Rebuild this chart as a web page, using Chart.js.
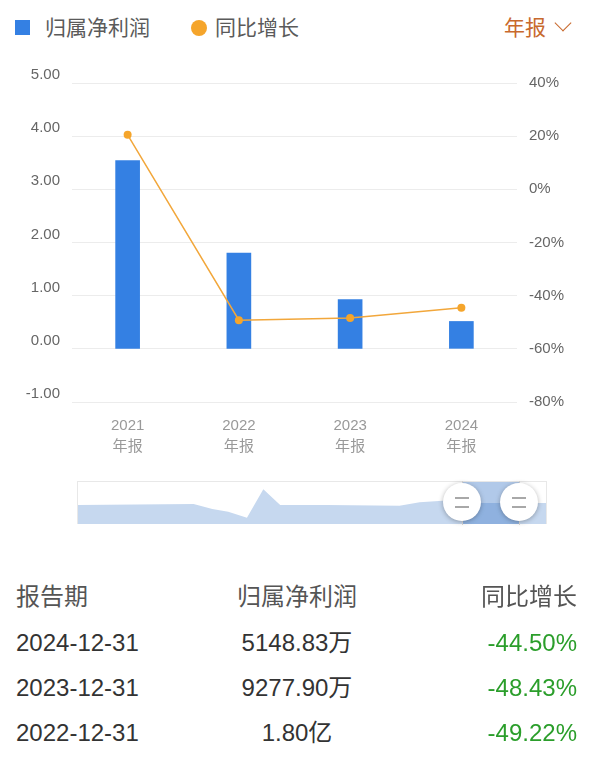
<!DOCTYPE html>
<html>
<head>
<meta charset="utf-8">
<script src="https://cdn.jsdelivr.net/npm/chart.js@4"></script>
<style>
  body { margin: 0; background: #fff; font-family: 'Liberation Sans', 'Noto Sans CJK SC', sans-serif; }
  #page { position: relative; width: 600px; height: 761px; overflow: hidden; }
  .abs { position: absolute; }
  .legend-text { font-size: 21px; color: #5a5a5a; line-height: 28px; top: 14px; }
  #period { left: 504px; top: 14px; font-size: 21px; line-height: 28px; color: #c8692d; }
  #chevron { left: 557px; top: 17px; width: 11px; height: 11px; border-right: 1.6px solid #c8692d; border-bottom: 1.6px solid #c8692d; transform: rotate(45deg); }
  #slider { left: 77px; top: 481px; width: 470px; height: 43px; border: 1px solid #e8e8e8; box-sizing: border-box; }
  #band { left: 463px; top: 482px; width: 56px; height: 42px; background: rgba(60, 120, 200, 0.4); }
  .handle { width: 38px; height: 38px; border-radius: 50%; background: #fff; box-shadow: 0 1px 5px rgba(0,0,0,0.3); top: 483px; }
  .handle .bar { position: absolute; left: 12px; width: 14px; height: 2px; background: #a8a8a8; }
  .stem { width: 1px; height: 44px; top: 481px; background: #d8d8d8; }
  .row { left: 0; width: 600px; height: 45px; line-height: 45px; font-size: 24px; }
  .row span { position: absolute; white-space: nowrap; }
  .c1 { left: 16px; }
  .c2 { left: 297px; transform: translateX(-50%); }
  .c3 { right: 23px; }
</style>
</head>
<body>
<div id="page">
  <div class="abs" style="left:15px;top:20px;width:15px;height:15px;background:#3480e3;"></div>
  <div class="abs legend-text" style="left:45px;">归属净利润</div>
  <div class="abs" style="left:191px;top:20px;width:16px;height:16px;border-radius:50%;background:#f5a52b;"></div>
  <div class="abs legend-text" style="left:215px;">同比增长</div>
  <div class="abs" id="period">年报</div>
  <div class="abs" id="chevron"></div>

  <canvas id="mainChart" class="abs" width="600" height="420" style="left:0;top:60px;"></canvas>

  <div class="abs" id="slider"></div>
  <canvas id="thumbChart" class="abs" width="468" height="42" style="left:78px;top:482px;"></canvas>
  <div class="abs" id="band"></div>
  <div class="abs stem" style="left:462px;"></div>
  <div class="abs stem" style="left:519px;"></div>
  <div class="abs handle" style="left:443px;"><div class="bar" style="top:14px;"></div><div class="bar" style="top:23px;"></div></div>
  <div class="abs handle" style="left:500px;"><div class="bar" style="top:14px;"></div><div class="bar" style="top:23px;"></div></div>

  <div id="table"></div>
</div>

<script>
const categories = [['2021', '年报'], ['2022', '年报'], ['2023', '年报'], ['2024', '年报']];
const netProfit = [3.54, 1.80, 0.928, 0.515];      // 亿
const yoyGrowth = [20.5, -49.22, -48.43, -44.50];  // %
const profitTicks = [-1, 0, 1, 2, 3, 4, 5];
const growthTicks = [-80, -60, -40, -20, 0, 20, 40];

// overview strip under the chart (position along timeline in %, relative height)
const thumbPos = [0, 24.7, 28.7, 32.1, 36.1, 39.6, 43.2, 53.1, 68.7, 73, 77.9, 83.6, 100];
const thumbValues = [19, 20, 15, 12.3, 6.3, 34.7, 19, 19, 18.3, 21.7, 23.3, 21, 21];

const tableHeader = ['报告期', '归属净利润', '同比增长'];
const tablePeriods = ['2024-12-31', '2023-12-31', '2022-12-31'];
const tableProfit = ['5148.83万', '9277.90万', '1.80亿'];
const tableGrowth = ['-44.50%', '-48.43%', '-49.22%'];

const FONT = "'Liberation Sans', 'Noto Sans CJK SC', sans-serif";

function fixedTicks(list) {
  return function (scale) {
    scale.ticks = list.map(v => ({ value: v }));
  };
}

new Chart(document.getElementById('mainChart').getContext('2d'), {
  data: {
    labels: categories,
    datasets: [{
      type: 'line',
      label: '同比增长',
      data: yoyGrowth,
      yAxisID: 'yGrowth',
      borderColor: '#f2a73b',
      borderWidth: 1.5,
      pointRadius: 4,
      pointBackgroundColor: '#f5a52b',
      pointBorderColor: '#f5a52b',
      pointBorderWidth: 0,
      tension: 0,
      order: 0
    }, {
      type: 'bar',
      label: '归属净利润',
      data: netProfit,
      yAxisID: 'yProfit',
      backgroundColor: '#3480e3',
      barThickness: 24,
      order: 1
    }]
  },
  options: {
    responsive: false,
    animation: false,
    layout: { padding: { top: 23, left: 0, right: 0, bottom: 0 } },
    plugins: { legend: { display: false }, tooltip: { enabled: false } },
    scales: {
      x: {
        grid: { display: false },
        border: { display: false },
        ticks: { color: '#999', padding: 5, font: { family: FONT, size: 15, lineHeight: 1.4 } },
        afterFit: s => { s.height = 78; }
      },
      yProfit: {
        position: 'left',
        min: profitTicks[0],
        max: profitTicks[profitTicks.length - 1],
        afterBuildTicks: fixedTicks(profitTicks),
        grid: { color: '#ececec', lineWidth: 1, drawTicks: false },
        border: { display: false },
        ticks: { color: '#666', padding: 12, labelOffset: -8, font: { family: FONT, size: 15 }, callback: v => v.toFixed(2) },
        afterFit: s => { s.width = 72; }
      },
      yGrowth: {
        position: 'right',
        min: growthTicks[0],
        max: growthTicks[growthTicks.length - 1],
        afterBuildTicks: fixedTicks(growthTicks),
        grid: { display: false, drawTicks: false },
        border: { display: false },
        ticks: { color: '#666', padding: 12, font: { family: FONT, size: 15 }, callback: v => v + '%' },
        afterFit: s => { s.width = 83; }
      }
    }
  }
});

new Chart(document.getElementById('thumbChart').getContext('2d'), {
  type: 'line',
  data: {
    datasets: [{
      data: thumbPos.map((p, i) => ({ x: p, y: thumbValues[i] })),
      borderWidth: 0,
      pointRadius: 0,
      fill: 'origin',
      backgroundColor: '#c6d8ef',
      tension: 0
    }]
  },
  options: {
    responsive: false,
    animation: false,
    layout: { padding: 0 },
    plugins: { legend: { display: false }, tooltip: { enabled: false } },
    scales: {
      x: { type: 'linear', display: false, min: 0, max: 100 },
      y: { display: false, min: 0, max: 42 }
    }
  }
});

// data table
const table = document.getElementById('table');
function addRow(top, cells, colors) {
  const row = document.createElement('div');
  row.className = 'abs row';
  row.style.top = top + 'px';
  ['c1', 'c2', 'c3'].forEach((cls, i) => {
    const span = document.createElement('span');
    span.className = cls;
    span.textContent = cells[i];
    span.style.color = colors[i];
    row.appendChild(span);
  });
  table.appendChild(row);
}
addRow(574, tableHeader, ['#555', '#555', '#555']);
tablePeriods.forEach((p, i) => {
  addRow(620 + i * 45, [p, tableProfit[i], tableGrowth[i]], ['#333', '#333', '#2b9e2b']);
});
</script>
</body>
</html>
